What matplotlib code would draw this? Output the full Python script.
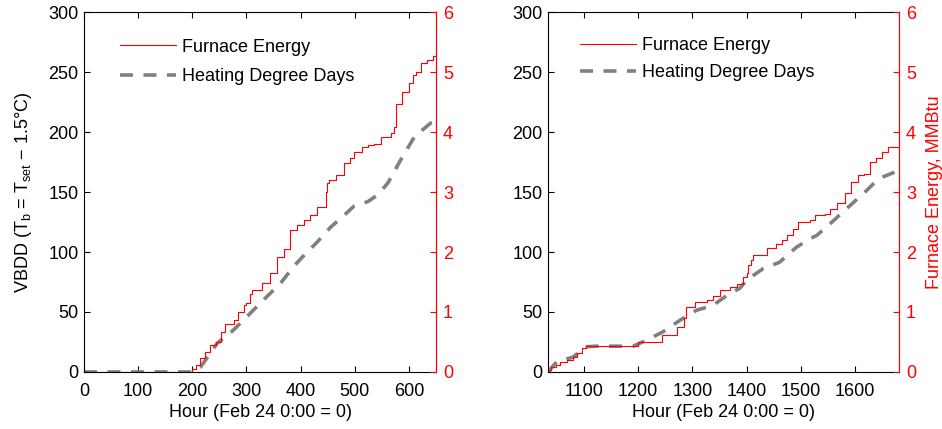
import numpy as np
import matplotlib
matplotlib.use("Agg")
import matplotlib.pyplot as plt
from matplotlib.lines import Line2D

plt.rcParams['font.family'] = ['Liberation Sans', 'DejaVu Sans']
plt.rcParams['font.size'] = 13
plt.rcParams['mathtext.fontset'] = 'custom'
plt.rcParams['mathtext.rm'] = 'Liberation Sans'

# left panel: furnace energy (MMBtu, step) and heating degree days (VBDD)
left_e_hr = [0, 200, 206, 215, 224, 233, 244, 252, 260, 268, 276, 285, 295, 300, 307, 310, 329,
             344, 357, 369, 381, 393, 406, 418, 431, 446, 449, 452, 465, 480, 492, 498, 514,
             525, 536, 548, 567, 572, 576, 588, 600, 607, 613, 622, 634, 645, 650]
left_e_val = [0, 0.05, 0.12, 0.23, 0.33, 0.45, 0.5, 0.67, 0.8, 0.8, 0.87, 1.0, 1.12, 1.15, 1.3, 1.37, 1.48,
              1.65, 1.92, 2.05, 2.37, 2.45, 2.53, 2.62, 2.75, 3.0, 3.15, 3.2, 3.28, 3.48, 3.57, 3.67, 3.75,
              3.78, 3.8, 3.92, 3.98, 4.08, 4.47, 4.67, 4.82, 4.95, 5.0, 5.15, 5.2, 5.26, 5.26]
left_h_hr = [0, 200, 215, 246, 276, 307, 338, 363, 387, 412, 430, 456, 474, 498, 524, 542, 561, 585, 610, 640, 650]
left_h_val = [0, 0, 4, 24, 35, 49, 63, 74, 88, 100, 108, 121, 128, 138, 142, 147.5, 157.5, 177, 196, 207.5, 209]

# right panel
right_e_hr = [1034, 1037, 1040, 1048, 1056, 1070, 1080, 1087, 1096, 1105, 1191, 1200, 1245, 1271, 1285,
              1289, 1305, 1327, 1338, 1351, 1370, 1382, 1394, 1400, 1403, 1408, 1412, 1437, 1455, 1466,
              1474, 1486, 1495, 1517, 1526, 1544, 1554, 1566, 1581, 1593, 1605, 1617, 1627, 1639, 1649,
              1661, 1681]
right_e_val = [0, 0.04, 0.08, 0.12, 0.17, 0.2, 0.25, 0.31, 0.4, 0.43, 0.43, 0.5, 0.61, 0.75, 0.9,
               1.08, 1.17, 1.2, 1.27, 1.36, 1.42, 1.47, 1.59, 1.65, 1.78, 1.87, 1.95, 2.06, 2.14, 2.2,
               2.28, 2.39, 2.5, 2.53, 2.61, 2.64, 2.72, 2.81, 2.98, 3.17, 3.28, 3.3, 3.5, 3.56, 3.67,
               3.75, 3.75]
right_h_hr = [1034, 1050, 1081, 1102, 1123, 1191, 1216, 1246, 1277, 1308, 1338, 1369, 1387, 1400, 1430,
              1461, 1492, 1517, 1530, 1554, 1584, 1615, 1640, 1651, 1681]
right_h_val = [0, 8.5, 12.5, 21, 21.5, 21.5, 26.5, 33.5, 43, 51.5, 55.5, 65.5, 69.5, 76.5, 86,
               91.5, 104, 111, 114, 123.5, 136, 148.5, 159.5, 162.5, 168]

fig = plt.figure(figsize=(9.42, 4.29), dpi=100)
ax1 = fig.add_axes([0.0892, 0.1329, 0.3737, 0.839])
ax2 = fig.add_axes([0.5817, 0.1329, 0.3726, 0.839])

dash = (3.6, 2.9)


def panel(ax, e_hr, e_val, h_hr, h_val, xlim, xticks, legx, legy, lspace, ylabel_left, ylabel_right):
    ax.plot(h_hr, h_val, color='#808080', lw=2.6, dashes=dash)
    ax.set_xlim(xlim)
    ax.set_ylim(0, 300)
    ax.set_xticks(xticks)
    ax.set_yticks(range(0, 301, 50))
    ax.tick_params(direction='in', top=True, right=False, length=4, width=0.8)
    ax.tick_params(axis='x', pad=8)
    ax.tick_params(axis='y', pad=4)
    ax.set_xlabel('Hour (Feb 24 0:00 = 0)', labelpad=3)
    if ylabel_left:
        ax.set_ylabel(ylabel_left, labelpad=10)
    tw = ax.twinx()
    tw.plot(e_hr, e_val, color='red', lw=0.8, drawstyle='steps-post')
    tw.set_ylim(0, 6)
    tw.set_xlim(xlim)
    tw.tick_params(axis='y', direction='in', colors='red', length=4, width=0.8, pad=5)
    for s in ['left', 'top', 'bottom']:
        tw.spines[s].set_visible(False)
    tw.spines['right'].set_color('red')
    if ylabel_right:
        tw.set_ylabel(ylabel_right, color='red', labelpad=7)
    handles = [Line2D([], [], color='red', lw=0.8),
               Line2D([], [], color='#808080', lw=2.6, dashes=dash)]
    tw.legend(handles, ['Furnace Energy', 'Heating Degree Days'], loc='upper left',
              bbox_to_anchor=(legx, legy), frameon=False, handlelength=3.1,
              handletextpad=0.35, labelspacing=lspace, borderpad=0, borderaxespad=0)


panel(ax1, left_e_hr, left_e_val, left_h_hr, left_h_val, (0, 650), range(0, 601, 100), 0.102, 0.926, 0.7,
      'VBDD (T$_\\mathregular{b}$ = T$_\\mathregular{set}$ \u2212 1.5\u00b0C)', None)
panel(ax2, right_e_hr, right_e_val, right_h_hr, right_h_val, (1034, 1681), range(1100, 1601, 100), 0.091,
      0.93, 0.55, None, 'Furnace Energy, MMBtu')

fig.savefig('out.png', dpi=100)
